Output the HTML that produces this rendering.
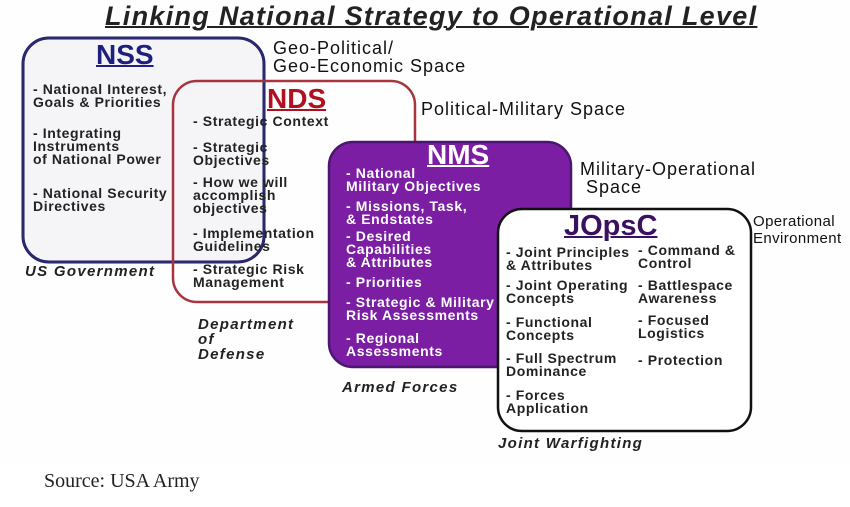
<!DOCTYPE html>
<html><head><meta charset="utf-8"><style>
body{margin:0;width:850px;height:507px;background:#fff;position:relative;overflow:hidden;font-family:"Liberation Sans",Arial,sans-serif;}
.t{position:absolute;white-space:nowrap;font-size:14px;line-height:13px;color:#222;font-weight:bold;letter-spacing:0.6px}
.w{color:#fff}
.i{font-style:italic;font-weight:bold;font-size:15px;letter-spacing:1.3px;color:#222;line-height:15px}
.s{font-weight:normal;font-size:18px;line-height:18px;color:#111;letter-spacing:1px}
.h{position:absolute;font-weight:bold;text-decoration:underline;text-decoration-thickness:2px}
</style></head><body>
<svg width="850" height="507" style="position:absolute;left:0;top:0">
<rect x="0" y="0" width="850" height="462" fill="#fefefe"/>
<rect x="23" y="38" width="241" height="224" rx="26" fill="#f5f5f8" stroke="#1c1a66" stroke-width="3"/>
<rect x="173" y="81" width="242" height="221" rx="24" fill="none" stroke="#a8343e" stroke-width="2.5"/>
<rect x="23" y="38" width="241" height="224" rx="26" fill="none" stroke="#4a4880" stroke-opacity="0.35" stroke-width="2"/>
<rect x="329" y="142" width="242" height="225" rx="24" fill="#7b1ea3" stroke="#4a1670" stroke-width="2.5"/>
<rect x="498" y="209" width="253" height="222" rx="24" fill="#fff" stroke="#111" stroke-width="2.5"/>
</svg>
<div class="h" style="left:105px;top:1px;font-size:27px;letter-spacing:1.3px;font-style:italic;color:#222">Linking National Strategy to Operational Level</div>
<div class="h" style="left:96px;top:39px;font-size:28px;color:#1f1f80">NSS</div>
<div class="h" style="left:267px;top:83px;font-size:28px;color:#b01020">NDS</div>
<div class="h" style="left:427px;top:139px;font-size:28px;color:#fff">NMS</div>
<div class="h" style="left:564px;top:210px;font-size:29px;color:#3a1060">JOpsC</div>

<div class="t s" style="left:273px;top:39px">Geo-Political/<br>Geo-Economic Space</div>
<div class="t s" style="left:421px;top:100px">Political-Military Space</div>
<div class="t s" style="left:580px;top:160px">Military-Operational<br>&nbsp;Space</div>
<div class="t s" style="left:753px;top:213px;font-size:15px;line-height:17px;letter-spacing:0.4px">Operational<br>Environment</div>

<div class="t" style="left:33px;top:83px">- National Interest,<br>Goals &amp; Priorities</div>
<div class="t" style="left:33px;top:127px">- Integrating<br>Instruments<br>of National Power</div>
<div class="t" style="left:33px;top:187px">- National Security<br>Directives</div>
<div class="t i" style="left:25px;top:264px">US Government</div>

<div class="t" style="left:193px;top:115px">- Strategic Context</div>
<div class="t" style="left:193px;top:141px">- Strategic<br>Objectives</div>
<div class="t" style="left:193px;top:176px">- How we will<br>accomplish<br>objectives</div>
<div class="t" style="left:193px;top:227px">- Implementation<br>Guidelines</div>
<div class="t" style="left:193px;top:263px">- Strategic Risk<br>Management</div>
<div class="t i" style="left:198px;top:317px">Department<br>of<br>Defense</div>

<div class="t w" style="left:346px;top:167px">- National<br>Military Objectives</div>
<div class="t w" style="left:346px;top:200px">- Missions, Task,<br>&amp; Endstates</div>
<div class="t w" style="left:346px;top:230px">- Desired<br>Capabilities<br>&amp; Attributes</div>
<div class="t w" style="left:346px;top:276px">- Priorities</div>
<div class="t w" style="left:346px;top:296px">- Strategic &amp; Military<br>Risk Assessments</div>
<div class="t w" style="left:346px;top:332px">- Regional<br>Assessments</div>
<div class="t i" style="left:342px;top:380px">Armed Forces</div>

<div class="t" style="left:506px;top:246px">- Joint Principles<br>&amp; Attributes</div>
<div class="t" style="left:506px;top:279px">- Joint Operating<br>Concepts</div>
<div class="t" style="left:506px;top:316px">- Functional<br>Concepts</div>
<div class="t" style="left:506px;top:352px">- Full Spectrum<br>Dominance</div>
<div class="t" style="left:506px;top:389px">- Forces<br>Application</div>
<div class="t" style="left:638px;top:244px">- Command &amp;<br>Control</div>
<div class="t" style="left:638px;top:279px">- Battlespace<br>Awareness</div>
<div class="t" style="left:638px;top:314px">- Focused<br>Logistics</div>
<div class="t" style="left:638px;top:354px">- Protection</div>
<div class="t i" style="left:498px;top:436px">Joint Warfighting</div>

<div style="position:absolute;left:44px;top:470px;font-family:'Liberation Serif',serif;font-size:20px;color:#222">Source: USA Army</div>
</body></html>
